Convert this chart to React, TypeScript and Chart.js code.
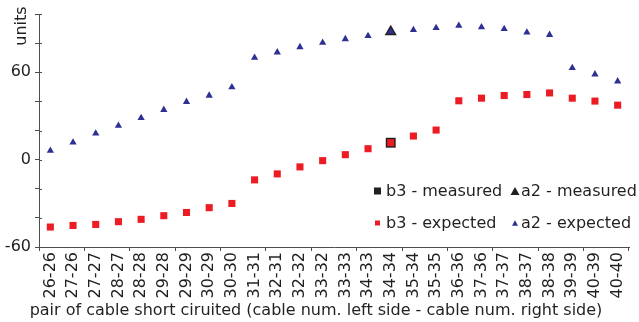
import React, { useEffect, useRef } from "react";
import { Chart, registerables } from "chart.js";

Chart.register(...registerables);

const categories = [
  "26-26", "27-26", "27-27", "28-27", "28-28", "29-28", "29-29", "30-29", "30-30",
  "31-31", "32-31", "32-32", "33-32", "33-33", "34-33", "34-34", "35-34", "35-35",
  "36-36", "37-36", "37-37", "38-37", "38-38", "39-39", "40-39", "40-40",
];

const a2Expected = [
  6.2, 11.8, 18, 23.3, 28.7, 34.2, 39.7, 44, 49.7, 70, 73.7, 77.3, 80.3, 82.8, 85,
  87.8, 89, 90.5, 92, 91, 89.8, 87.4, 85.7, 63, 58.6, 53.8,
];

const b3Expected = [
  -46.3, -45.2, -44.5, -42.6, -41, -38.5, -36.3, -33, -30.1, -13.9, -9.8, -5, -0.7,
  3.4, 7.5, 11.6, 16.2, 20.3, 40.4, 42.2, 44, 44.7, 45.8, 42.2, 40.2, 37.4,
];

const measuredCategory = "34-34";
const a2Measured = 87.8;
const b3Measured = 11.6;

const yLabelValues = [-60, 0, 60];
const yTitle = "units";
const xTitle = "pair of cable short ciruited (cable num. left side - cable num. right side)";
const legendLabels = ["b3 - measured", "a2 - measured", "b3 - expected", "a2 - expected"];

const TEXT = "#231f20";
const AXIS = "#4d4d4d";
const BLUE = "#2e3192";
const RED = "#ed1c24";
const FONT = "'DejaVu Sans', sans-serif";

function measuredSeries(v: number) {
  return categories.map((c) => (c === measuredCategory ? v : null));
}

const extrasPlugin = {
  id: "extras",
  afterDraw(chart: any) {
    const ctx = chart.ctx as CanvasRenderingContext2D;
    const ys = chart.scales.y;
    const area = chart.chartArea;
    ctx.save();
    // inner part of y tick marks
    ctx.strokeStyle = AXIS;
    ctx.lineWidth = 1;
    ys.ticks.forEach((t: any) => {
      const py = Math.round(ys.getPixelForValue(t.value)) + 0.5;
      ctx.beginPath();
      ctx.moveTo(area.left, py);
      ctx.lineTo(area.left + 3, py);
      ctx.stroke();
    });
    // axis titles
    ctx.fillStyle = TEXT;
    ctx.font = `16px ${FONT}`;
    ctx.textBaseline = "middle";
    ctx.textAlign = "center";
    ctx.fillText(xTitle, 316, 311);
    ctx.save();
    ctx.translate(22, 26);
    ctx.rotate(-Math.PI / 2);
    ctx.fillText(yTitle, 0, 0);
    ctx.restore();
    // legend
    const rows = [191, 223];
    const cols = [{ m: 377.5, t: 386 }, { m: 515, t: 521 }];
    const items = [
      { col: 0, row: 0, shape: "rect", size: 7, color: "#231f20" },
      { col: 1, row: 0, shape: "tri", size: 9, color: "#231f20" },
      { col: 0, row: 1, shape: "rect", size: 5, color: RED },
      { col: 1, row: 1, shape: "tri", size: 6, color: BLUE },
    ];
    items.forEach((it, i) => {
      const cx = cols[it.col].m;
      const cy = rows[it.row];
      ctx.fillStyle = it.color;
      if (it.shape === "rect") {
        ctx.fillRect(cx - it.size / 2, cy - it.size / 2, it.size, it.size);
      } else {
        const h = it.size * 0.9;
        ctx.beginPath();
        ctx.moveTo(cx, cy - h / 2);
        ctx.lineTo(cx + it.size / 2, cy + h / 2);
        ctx.lineTo(cx - it.size / 2, cy + h / 2);
        ctx.closePath();
        ctx.fill();
      }
      ctx.fillStyle = TEXT;
      ctx.textAlign = "left";
      ctx.fillText(legendLabels[i], cols[it.col].t, cy + 1);
    });
    ctx.restore();
  },
};

export default function App() {
  const ref = useRef<HTMLCanvasElement | null>(null);
  useEffect(() => {
    if (!ref.current) return;
    const chart = new Chart(ref.current, {
      type: "line",
      data: {
        labels: categories,
        datasets: [
          {
            label: legendLabels[2],
            data: b3Expected,
            showLine: false,
            pointStyle: "rect",
            pointRadius: 5,
            pointBackgroundColor: RED,
            pointBorderWidth: 0,
            borderColor: RED,
            order: 0,
          },
          {
            label: legendLabels[3],
            data: a2Expected,
            showLine: false,
            pointStyle: "triangle",
            pointRadius: 4.2,
            pointBackgroundColor: BLUE,
            pointBorderWidth: 0,
            borderColor: BLUE,
            order: 0,
          },
          {
            label: legendLabels[0],
            data: measuredSeries(b3Measured),
            showLine: false,
            pointStyle: "rect",
            pointRadius: 7,
            pointBackgroundColor: "#231f20",
            pointBorderWidth: 0,
            borderColor: "#231f20",
            order: 1,
          },
          {
            label: legendLabels[1],
            data: measuredSeries(a2Measured),
            showLine: false,
            pointStyle: "triangle",
            pointRadius: 7,
            pointBackgroundColor: "#231f20",
            pointBorderWidth: 0,
            borderColor: "#231f20",
            order: 1,
          },
        ],
      },
      options: {
        animation: false,
        responsive: true,
        maintainAspectRatio: false,
        layout: { padding: { top: 14, right: 10, left: 0, bottom: 0 } },
        plugins: {
          legend: { display: false },
          tooltip: { enabled: false },
        },
        scales: {
          x: {
            type: "category",
            offset: true,
            afterFit: (s: any) => { s.height = 75; },
            border: { display: true, color: AXIS, width: 1 },
            grid: {
              offset: true,
              drawOnChartArea: false,
              drawTicks: true,
              tickLength: 4,
              color: (c: any) =>
                c.index === undefined || c.index % 2 === 0 ? AXIS : "rgba(0,0,0,0)",
            },
            ticks: {
              autoSkip: false,
              minRotation: 90,
              maxRotation: 90,
              padding: 1,
              color: TEXT,
              font: { family: FONT, size: 16 },
            },
          },
          y: {
            min: -60,
            max: 100,
            afterFit: (s: any) => { s.width = 39; },
            border: { display: true, color: AXIS, width: 1 },
            grid: {
              drawOnChartArea: false,
              drawTicks: true,
              tickLength: 4,
              color: AXIS,
            },
            ticks: {
              stepSize: 20,
              padding: 4,
              color: TEXT,
              font: { family: FONT, size: 16 },
              callback: (v: any) => (yLabelValues.includes(Number(v)) ? String(v) : ""),
            },
          },
        },
      },
      plugins: [extrasPlugin],
    });
    return () => chart.destroy();
  }, []);
  return (
    <div style={{ position: "fixed", left: 0, top: 0, width: 639, height: 322, background: "#fff" }}>
      <canvas ref={ref} />
    </div>
  );
}
